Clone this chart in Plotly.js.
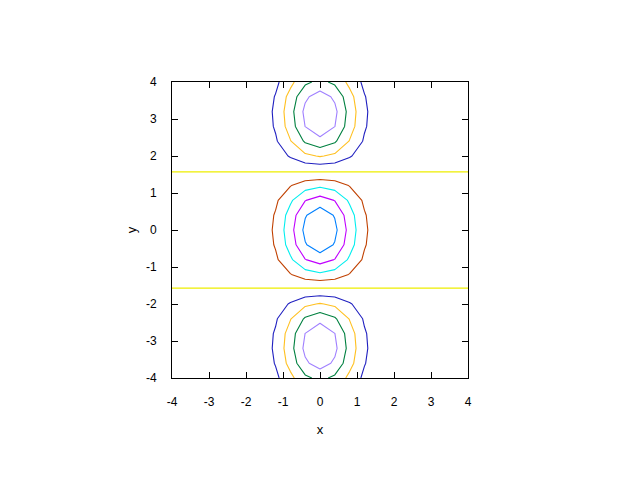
<!DOCTYPE html>
<html>
<head>
<meta charset="utf-8">
<script src="https://cdn.plot.ly/plotly-3.0.1.min.js"></script>
<style>html,body{margin:0;padding:0;background:#fff;}#chart{width:640px;height:480px;}</style>
</head>
<body>
<div id="chart"></div>
<script>
// Sample grid coordinates
var xs = [-4,-3.6,-3.2,-2.8,-2.4,-2,-1.6,-1.2,-0.8,-0.4,0,0.4,0.8,1.2,1.6,2,2.4,2.8,3.2,3.6,4];
var ys = [-4,-3.6,-3.2,-2.8,-2.4,-2,-1.6,-1.2,-0.8,-0.4,0,0.4,0.8,1.2,1.6,2,2.4,2.8,3.2,3.6,4];
// Surface profile along x (peak at x = 0) and along y (sign changes at y = ±1.57)
var xProfile = [1.1e-7,2.4e-6,3.57e-5,3.937e-4,3.1511e-3,0.018316,0.077305,0.23693,0.52729,0.85214,1,
                0.85214,0.52729,0.23693,0.077305,0.018316,3.1511e-3,3.937e-4,3.57e-5,2.4e-6,1.1e-7];
var yProfile = [-0.65364,-0.89676,-0.99829,-0.94222,-0.73739,-0.41615,-0.02920,0.36236,0.69671,0.92106,1,
                0.92106,0.69671,0.36236,-0.02920,-0.41615,-0.73739,-0.94222,-0.99829,-0.89676,-0.65364];
// Contour levels and their line colours
var levels = [0.8,0.6,0.4,0.2,0,-0.2,-0.4,-0.6,-0.8];
var levelColors = ['#0080ff','#c000ff','#00eeee','#c04000','#eeee00','#2020c0','#ffc020','#008040','#a080ff'];
// Tick labels
var tickVals = [-4,-3,-2,-1,0,1,2,3,4];
var tickText = ['-4','-3','-2','-1','0','1','2','3','4'];

var z = ys.map(function(_, j){ return xs.map(function(_, i){ return yProfile[j]*xProfile[i]; }); });

var traces = levels.map(function(L, k){
  return {
    type: 'contour', x: xs, y: ys, z: z,
    autocontour: false,
    contours: {start: L, end: L, size: 1, coloring: 'none', showlines: true},
    line: {color: levelColors[k], width: 1.1, smoothing: 0},
    showscale: false, hoverinfo: 'skip'
  };
});

var font = {family: 'Liberation Sans, Arial, sans-serif', size: 12, color: '#000'};
var titleFont = {family: 'Liberation Sans, Arial, sans-serif', size: 13, color: '#000'};
var axisCommon = {
  range: [-4, 4], tickmode: 'array', tickvals: tickVals, ticktext: tickText,
  ticks: 'inside', ticklen: 6, tickcolor: '#000', tickwidth: 1,
  showline: true, linecolor: '#000', linewidth: 1, mirror: 'ticks',
  showgrid: false, zeroline: false, tickfont: font, automargin: false
};

var layout = {
  width: 640, height: 480,
  margin: {l: 172, r: 172, t: 82, b: 102},
  paper_bgcolor: '#fff', plot_bgcolor: '#fff',
  showlegend: false,
  font: font,
  xaxis: Object.assign({}, axisCommon, {title: {text: 'x', font: titleFont, standoff: 16}, ticklabelstandoff: 13}),
  yaxis: Object.assign({}, axisCommon, {title: {text: 'y', font: titleFont, standoff: 6}, ticklabelstandoff: 12})
};

Plotly.newPlot('chart', traces, layout, {staticPlot: true, displayModeBar: false});
</script>
</body>
</html>
